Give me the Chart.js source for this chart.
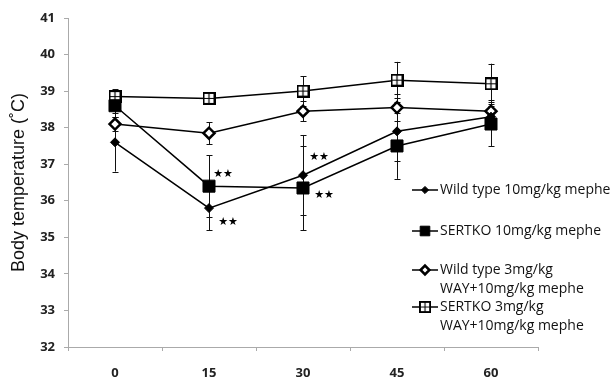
<!DOCTYPE html>
<html>
<head>
<meta charset="utf-8">
<script src="https://cdn.jsdelivr.net/npm/chart.js@4.4.0/dist/chart.umd.min.js"></script>
<style>
  html, body { margin: 0; padding: 0; background: #fff; }
  #wrap { width: 616px; height: 381px; position: relative; }
</style>
</head>
<body>
<div id="wrap"><canvas id="c" width="616" height="381"></canvas></div>
<script>
// ---- data ----
const categories = ['0', '15', '30', '45', '60'];
const yTicks = [32, 33, 34, 35, 36, 37, 38, 39, 40, 41];

const wt10 = [37.6, 35.8, 36.7, 37.9, 38.3];
const wt10Err = [0.8, 0.6, 1.1, 0.8, 0.3];
const ko10 = [38.6, 36.4, 36.35, 37.5, 38.1];
const ko10Err = [0.3, 0.85, 1.15, 0.9, 0.6];
const wt3 = [38.1, 37.85, 38.45, 38.55, 38.45];
const wt3Err = [0.2, 0.3, 0.27, 0.38, 0.3];
const ko3 = [38.85, 38.8, 39.0, 39.3, 39.2];
const ko3Err = [0.2, 0.15, 0.4, 0.5, 0.55];

const labels = [
  ['Wild type 10mg/kg mephe'],
  ['SERTKO 10mg/kg mephe'],
  ['Wild type 3mg/kg', 'WAY+10mg/kg mephe'],
  ['SERTKO 3mg/kg', 'WAY+10mg/kg mephe']
];

// significance marks: dataset index, point index
const stars = [
  { ds: 1, i: 1, dx: 14, dy: -12 },
  { ds: 0, i: 1, dx: 19, dy: 14 },
  { ds: 0, i: 2, dx: 16, dy: -18 },
  { ds: 1, i: 2, dx: 21, dy: 7 }
];

// ---- custom point style: open square with cross ----
function crossSquare(size) {
  const c = document.createElement('canvas');
  c.width = size; c.height = size;
  const g = c.getContext('2d');
  g.fillStyle = '#fff';
  g.fillRect(1, 1, size - 2, size - 2);
  g.strokeStyle = '#000';
  g.lineWidth = 2;
  g.strokeRect(1, 1, size - 2, size - 2);
  g.lineWidth = 1.2;
  g.beginPath();
  g.moveTo(size / 2, 2); g.lineTo(size / 2, size - 2);
  g.moveTo(2, size / 2); g.lineTo(size - 2, size / 2);
  g.stroke();
  return c;
}
const ko3Img = crossSquare(13);

const errs = [wt10Err, ko10Err, wt3Err, ko3Err];

const errorBars = {
  id: 'errorBars',
  beforeDatasetsDraw(chart) {
    const ctx = chart.ctx;
    const y = chart.scales.y;
    ctx.save();
    ctx.strokeStyle = '#111';
    ctx.lineWidth = 1;
    chart.data.datasets.forEach((ds, di) => {
      const meta = chart.getDatasetMeta(di);
      meta.data.forEach((pt, i) => {
        const v = ds.data[i], e = errs[di][i];
        const x = Math.round(pt.x) + 0.5;
        const yt = y.getPixelForValue(v + e), yb = y.getPixelForValue(v - e);
        ctx.beginPath();
        ctx.moveTo(x, yt); ctx.lineTo(x, yb);
        ctx.moveTo(x - 3, Math.round(yt) + 0.5); ctx.lineTo(x + 3, Math.round(yt) + 0.5);
        ctx.moveTo(x - 3, Math.round(yb) + 0.5); ctx.lineTo(x + 3, Math.round(yb) + 0.5);
        ctx.stroke();
      });
    });
    ctx.restore();
  }
};

const starMarks = {
  id: 'starMarks',
  afterDatasetsDraw(chart) {
    const ctx = chart.ctx;
    ctx.save();
    ctx.fillStyle = '#000';
    ctx.font = '11px "DejaVu Sans"';
    ctx.textAlign = 'center';
    ctx.textBaseline = 'middle';
    stars.forEach(s => {
      const pt = chart.getDatasetMeta(s.ds).data[s.i];
      ctx.fillText('★★', pt.x + s.dx, pt.y + s.dy);
    });
    ctx.restore();
  }
};

const legendRows = [190, 231, 270, 307];
const customLegend = {
  id: 'customLegend',
  afterDraw(chart) {
    const ctx = chart.ctx;
    ctx.save();
    chart.data.datasets.forEach((ds, di) => {
      const yy = legendRows[di];
      ctx.strokeStyle = '#000';
      ctx.lineWidth = 1.5;
      ctx.beginPath();
      ctx.moveTo(412, yy); ctx.lineTo(438, yy);
      ctx.stroke();
      const opts = {
        pointStyle: ds.pointStyle,
        radius: ds.pointRadius * 0.8,
        borderWidth: ds.pointBorderWidth,
        rotation: 0
      };
      ctx.fillStyle = ds.pointBackgroundColor;
      ctx.strokeStyle = '#000';
      ctx.lineWidth = ds.pointBorderWidth;
      if (ds.pointStyle instanceof HTMLCanvasElement) {
        ctx.drawImage(ds.pointStyle, 425 - 6, yy - 6, 12, 12);
      } else {
        Chart.helpers.drawPoint(ctx, opts, 425, yy);
      }
      ctx.fillStyle = '#111';
      ctx.font = '14px "Open Sans"';
      ctx.textAlign = 'left';
      ctx.textBaseline = 'middle';
      labels[di].forEach((t, li) => ctx.fillText(t, 440, yy + li * 19));
    });
    ctx.restore();
  }
};

const common = {
  borderColor: '#000',
  borderWidth: 1.5,
  pointBorderColor: '#000',
  tension: 0
};

new Chart(document.getElementById('c'), {
  type: 'line',
  data: {
    labels: categories,
    datasets: [
      Object.assign({ label: labels[0].join(' '), data: wt10, pointStyle: 'rectRot', pointRadius: 4.5, pointBackgroundColor: '#000', pointBorderWidth: 1 }, common),
      Object.assign({ label: labels[1].join(' '), data: ko10, pointStyle: 'rect', pointRadius: 8.5, pointBackgroundColor: '#000', pointBorderWidth: 1 }, common),
      Object.assign({ label: labels[2].join(' '), data: wt3, pointStyle: 'rectRot', pointRadius: 5.5, pointBackgroundColor: '#fff', pointBorderWidth: 2.5 }, common),
      Object.assign({ label: labels[3].join(' '), data: ko3, pointStyle: ko3Img, pointRadius: 7, pointBackgroundColor: '#fff', pointBorderWidth: 2 }, common)
    ]
  },
  options: {
    responsive: false,
    animation: false,
    layout: { padding: { top: 18, right: 78, left: 0, bottom: 0 } },
    plugins: { legend: { display: false }, tooltip: { enabled: false } },
    scales: {
      x: {
        type: 'category',
        offset: true,
        grid: { display: true, drawOnChartArea: false, tickLength: 4, color: '#aaa', offset: true },
        border: { color: '#aaa', width: 1 },
        ticks: { color: '#222', font: { family: 'Open Sans', size: 13, weight: 'bold' }, padding: 14, maxRotation: 0 },
        afterFit(s) { s.height = 34; }
      },
      y: {
        min: 32, max: 41,
        afterBuildTicks(s) { s.ticks = yTicks.map(v => ({ value: v })); },
        grid: { display: true, drawOnChartArea: false, tickLength: 4, color: '#aaa' },
        border: { color: '#aaa', width: 1 },
        ticks: { color: '#222', font: { family: 'Open Sans', size: 13, weight: 'bold' }, padding: 9 },
        title: { display: true, text: 'Body temperature (˚C)', color: '#111', font: { family: 'Liberation Sans', size: 18 }, padding: { top: 8, bottom: 2 } },
        afterFit(s) { s.width = 68; }
      }
    }
  },
  plugins: [errorBars, starMarks, customLegend]
});
</script>
</body>
</html>
